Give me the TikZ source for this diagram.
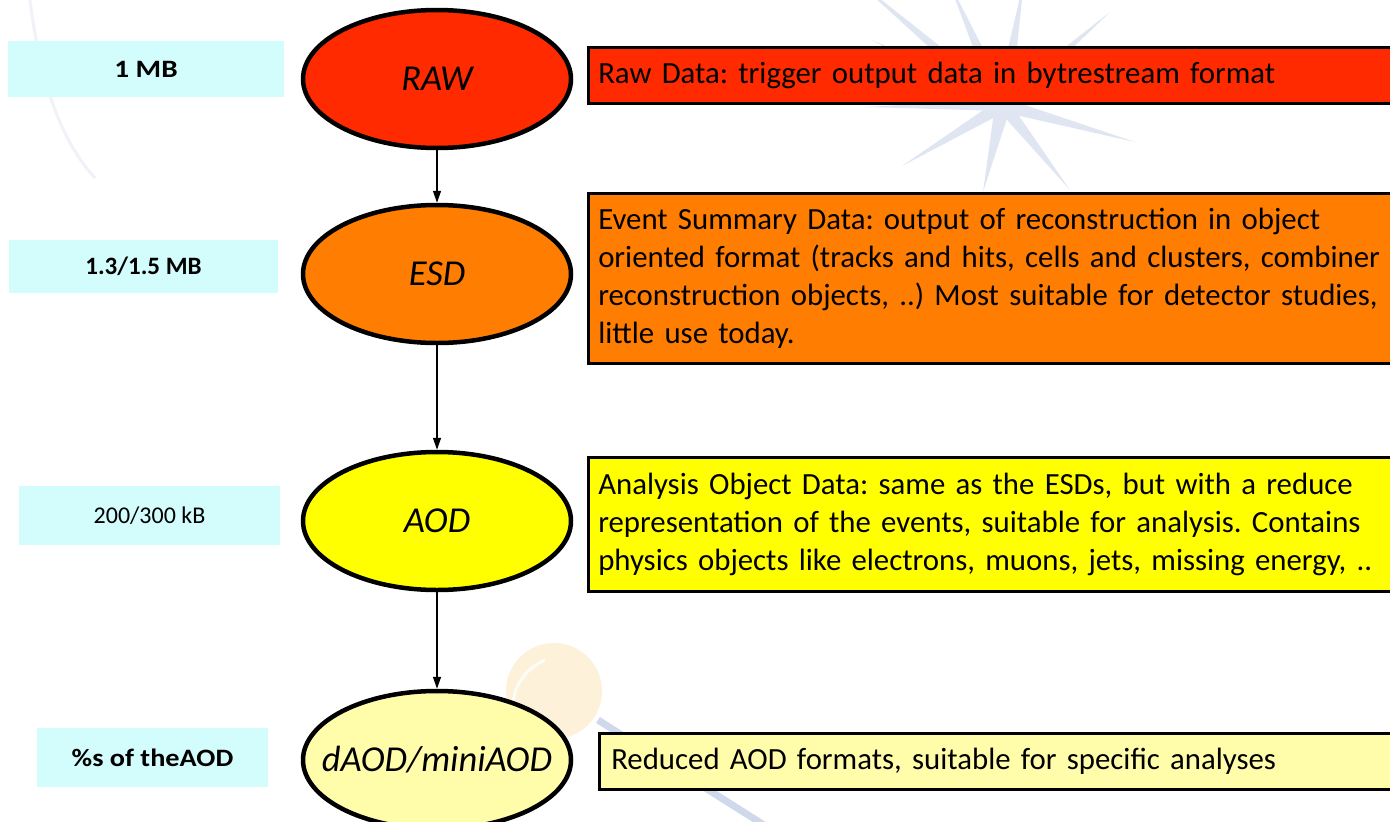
\documentclass[tikz,border=0pt]{standalone}
\usepackage{fontspec}
\usepackage{graphicx}
\setmainfont{Carlito}
\frenchspacing
\usetikzlibrary{shapes.geometric,arrows.meta,calc}

\definecolor{rawred}{HTML}{FF2A00}
\definecolor{esdorange}{HTML}{FF7D00}
\definecolor{aodyellow}{HTML}{FFFF00}
\definecolor{daodyellow}{HTML}{FFFCAA}
\definecolor{sizecyan}{HTML}{D3FCFC}
\definecolor{starblue}{HTML}{DFE6F2}
\definecolor{arcgrey}{HTML}{F0F2F7}
\definecolor{sunpale}{HTML}{FDF2D9}
\definecolor{rayblue}{HTML}{D0D8EB}

\tikzset{
  sizebox/.style={rectangle, fill=sizecyan, inner sep=0pt,
    font=\fontsize{25}{30}\selectfont},
  boldsize/.style={sizebox, font=\fontsize{25}{30}\selectfont\bfseries},
  format/.style={ellipse, draw=black, line width=4.5pt, minimum width=268pt,
    minimum height=138pt, inner sep=0pt, font=\fontsize{36.5}{42}\selectfont\itshape},
  desc/.style={rectangle, draw=black, line width=2.5pt, anchor=north west,
    inner xsep=10pt, inner ysep=0pt, text width=810pt, align=left,
    font=\fontsize{30.8}{38.3}\selectfont},
  flow/.style={line width=1.4pt, -{Triangle[length=12pt,width=8pt]}},
  spike/.style={fill=starblue, draw=none}
}

\begin{document}
\begin{tikzpicture}[x=1pt,y=-1pt]
\useasboundingbox (0,0) rectangle (1390,822);
\clip (0,0) rectangle (1390,822);
\fill[white] (0,0) rectangle (1390,822);

% faint background ornaments: a star, an arc, a small sun with its ray
\coordinate (sc) at (1003,105);
\foreach \tx/\ty/\w in {1024/-20/8, 948/-20/8, 850/-25/7, 1110/12/7, 1135/142/7,
                        1070/190/7, 983/192/8, 902/166/7, 865/107/6, 872/40/6} {
  \coordinate (tip) at (\tx,\ty);
  \fill[spike] ($(sc)!\w pt!90:(tip)$) -- (tip) -- ($(sc)!\w pt!-90:(tip)$) -- cycle;
}
\draw[arcgrey, line width=3pt] (30,0) .. controls (40,80) and (60,140) .. (95,178);
\draw[rayblue, line width=7pt] (598,720) -- (775,832);
\fill[sunpale] (554,691) circle (48pt);
\draw[white, line width=3pt, opacity=0.8] (516,720) .. controls (508,698) and (518,672) .. (545,660);

% data size labels
\node[boldsize, minimum width=276pt, minimum height=56pt] (sraw) at (146,69)
  {\scalebox{1.17}[1]{1 MB}};
\node[boldsize, minimum width=269pt, minimum height=53pt] (sesd) at (143.5,266.5)
  {1.3/1.5 MB};
\node[sizebox, minimum width=261pt, minimum height=59pt, font=\fontsize{24}{30}\selectfont] (saod) at (149.5,515.5)
  {200/300 kB};
\node[boldsize, minimum width=231pt, minimum height=59pt] (sdaod) at (152.5,757.5)
  {\scalebox{1.13}[1]{\%s of theAOD}};

% data formats (labels kept out of the ellipse size)
\node[format, fill=rawred] (raw) at (437,79) {\makebox[0pt]{RAW}};
\node[format, fill=esdorange] (esd) at (437,274) {\makebox[0pt]{ESD}};
\node[format, fill=aodyellow] (aod) at (437,521) {\makebox[0pt]{AOD}};
\node[format, fill=daodyellow] (daod) at (437,760) {\makebox[0pt]{dAOD/miniAOD}};

\draw[flow] (raw) -- (esd);
\draw[flow] (esd) -- (aod);
\draw[flow] (aod) -- (daod);

% descriptions
\node[desc, fill=rawred, minimum height=56pt] (draw) at (587,46)
  {Raw Data: trigger output data in bytrestream format};
\node[desc, fill=esdorange, minimum height=170pt] (desd) at (587,192)
  {Event Summary Data: output of reconstruction in object\\
   oriented format (tracks and hits, cells and clusters, combiner\\
   reconstruction objects, ..) Most suitable for detector studies,\\
   little use today.};
\node[desc, fill=aodyellow, minimum height=134pt] (daod-text) at (587,456)
  {Analysis Object Data: same as the ESDs, but with a reduce\\
   representation of the events, suitable for analysis. Contains\\
   physics objects like electrons, muons, jets, missing energy, ..};
\node[desc, fill=daodyellow, minimum height=56pt, inner xsep=12pt] (ddaod) at (598,732)
  {Reduced AOD formats, suitable for specific analyses};
\end{tikzpicture}
\end{document}
